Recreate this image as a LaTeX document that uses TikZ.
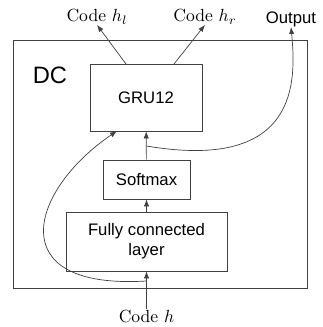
\documentclass[tikz,border=0pt]{standalone}
\usepackage{fontspec}
\setsansfont{Liberation Sans}
\usetikzlibrary{arrows.meta}
\tikzset{
    blk/.style={draw=black!75, font=\sffamily\fontsize{9.5}{11.5}\selectfont, align=center, inner sep=0pt},
    arr/.style={draw=black!75, -{Latex[length=4pt,width=3pt]}},
    lbl/.style={inner sep=0pt}
}
\begin{document}
\begin{tikzpicture}[x=0.02cm, y=-0.02cm]
        \useasboundingbox (0,0) rectangle (323,327);
        \node[blk, minimum width=5.88cm, minimum height=4.96cm] (dc) at (160,164) {};
        \node[font=\sffamily\fontsize{13.5}{16}\selectfont, inner sep=0pt] (dcname) at (50,75) {DC};

        \node[blk, minimum width=2.24cm, minimum height=1.34cm] (gru) at (146,97.5) {GRU12};
        \node[blk, minimum width=1.74cm, minimum height=0.78cm] (soft) at (146.5,179.5) {Softmax};
        \node[blk, minimum width=3.22cm, minimum height=1.18cm] (fc) at (146.5,241.5) {Fully connected\\layer};

        \node[lbl] (hl) at (97,17) {Code $h_l$};
        \node[lbl] (hr) at (205,17) {Code $h_r$};
        \node[lbl, font=\sffamily\fontsize{9.5}{11.5}\selectfont] (out) at (291,19) {Output};
        \node[lbl] (h) at (146.5,316) {Code $h$};

        \coordinate (gl) at (126,64);
        \coordinate (gr) at (174,64);
        \coordinate (split) at (146.5,281);
        \coordinate (tap) at (146.5,146);
        \coordinate (gin) at (117,131);

        \draw[arr] (h) -- (fc);
        \draw[arr] (fc) -- (soft);
        \draw[arr] (soft) -- (gru);
        \draw[arr] (gl) -- (hl.south);
        \draw[arr] (gr) -- (hr.south);
        \draw[arr] (split) .. controls (0,290) and (30,190) .. (gin);
        \draw[arr] (tap) .. controls (300,172) and (296,80) .. (out.south);
    \end{tikzpicture}
\end{document}
